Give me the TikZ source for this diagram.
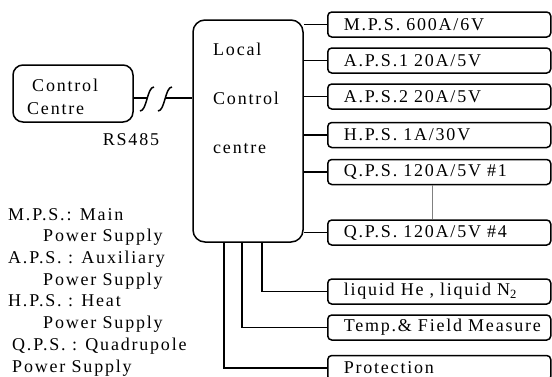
\documentclass[tikz,border=0pt]{standalone}
\usepackage{fontspec}
\setmainfont{Liberation Serif}[LetterSpace=10]
\usetikzlibrary{
	positioning,  %定位
	calc          %计算
}
\tikzset{
	every picture/.style={
		>=latex,
		x=1pt,y=-1pt
	},
	thick line/.style={line width=1.5pt},
	txt/.style={inner sep=0pt,
		font=\fontsize{18pt}{21.7pt}\selectfont},
	psbox/.style={draw,thick line,rounded corners=4pt,
		minimum height=25pt,text width=191pt,inner xsep=16pt,inner ysep=0pt,
		align=left,anchor=west,
		font=\fontsize{18pt}{21.7pt}\selectfont}
}

\begin{document}
\begin{tikzpicture}
	\useasboundingbox (0,0) rectangle (552,376);
	% 本地控制
	\node (lcc) [draw,thick line,rounded corners=12pt,minimum width=110pt,minimum height=222pt] at (248,131) {};
	\node (lcctxt) [txt,anchor=west,align=left,font=\fontsize{18pt}{49pt}\selectfont] at (213,98) {Local\\Control\\centre};
	% 控制中心
	\node (cc) [draw,thick line,rounded corners=10pt,minimum width=120pt,minimum height=57pt] at (73,93.5) {};
	\node (cctxt) [txt,anchor=west,align=left,font=\fontsize{18pt}{23pt}\selectfont] at (27,97) {\hspace{5pt}Control\\Centre};
	\node (rs) [txt] at (131,140) {RS485};
	% 电源
	\node (mps) [psbox] at (327,24.5) {M.P.S. 600A/6V};
	\node (aps1) [psbox] at (327,60.5) {A.P.S.1 20A/5V};
	\node (aps2) [psbox] at (327,96.5) {A.P.S.2 20A/5V};
	\node (hps) [psbox] at (327,135) {H.P.S. 1A/30V};
	\node (qps1) [psbox] at (327,172) {Q.P.S. 120A/5V \#1};
	\node (qps4) [psbox] at (327,232.5) {Q.P.S. 120A/5V \#4};
	\node (liq) [psbox] at (327,291.5) {liquid He , liquid N\textsubscript{2}};
	\node (tmp) [psbox] at (327,327.5) {\mbox{Temp.\& Field Measure}};
	\node (prot) [psbox] at (327,368) {Protection};
	% 说明
	\node (legend) [txt,anchor=north west,align=left] at (8,208) {M.P.S.: Main\\
		\hspace{35pt}Power Supply\\
		A.P.S. : Auxiliary\\
		\hspace{35pt}Power Supply\\
		H.P.S. : Heat\\
		\hspace{35pt}Power Supply\\
		\hspace{4pt}Q.P.S. : Quadrupole\\
		\hspace{4pt}Power Supply};
	% 连线
	\coordinate (cut1) at (148,98);
	\coordinate (cut2) at (166,98);
	\draw[thick line] ([yshift=-4.5pt]cc.east) -- (cut1);
	\draw[thick line] (cut2) -- (lcc.west |- cut2);
	\foreach \c in {cut1,cut2}
		\draw[thick line,shift={(\c)}] (-8,13) .. controls (-1,13) and (-1,-11) .. (6,-11);
	\foreach \n in {mps,aps1,aps2,hps,qps1,qps4}
		\draw[thick line] (lcc.east |- \n) -- (\n.west);
	\draw[thick line] ([xshift=14pt]lcc.south) |- (liq.west);
	\draw[thick line] ([xshift=-6pt]lcc.south) |- (tmp.west);
	\draw[thick line] ([xshift=-24pt]lcc.south) |- (prot.west);
	\draw[gray,line width=0.6pt] ([xshift=-7pt]qps1.south) -- ([xshift=-7pt]qps4.north);
\end{tikzpicture}
\end{document}
